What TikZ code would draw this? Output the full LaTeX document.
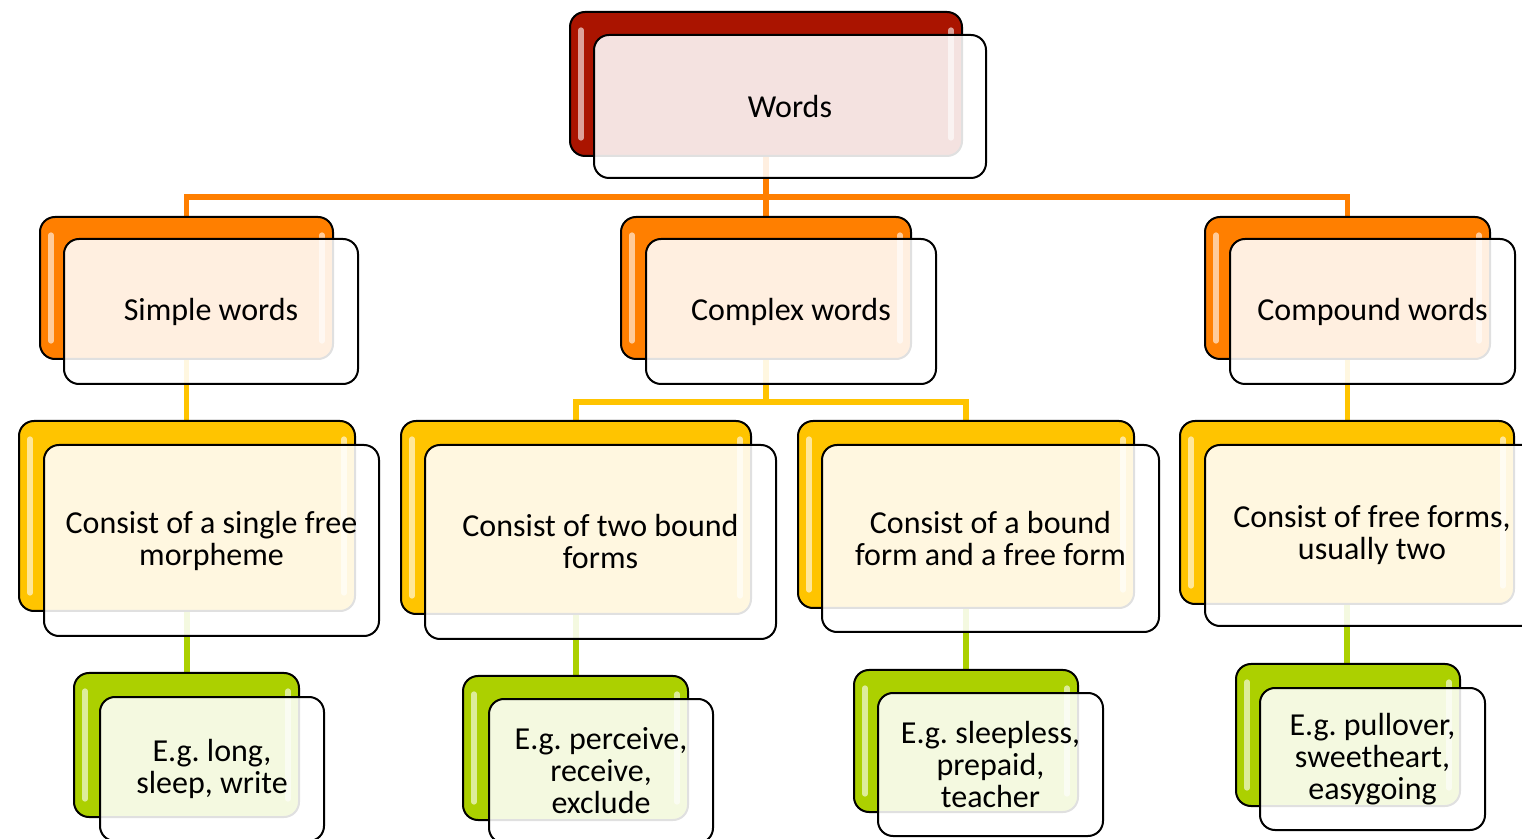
\documentclass[tikz,border=0pt]{standalone}
\usepackage{fontspec}
\setmainfont{Carlito}
\frenchspacing
\definecolor{cRed}{HTML}{AA1400}
\definecolor{cOrange}{HTML}{FF7F00}
\definecolor{cYellow}{HTML}{FFC400}
\definecolor{cGreen}{HTML}{ACD000}
\pgfdeclarelayer{bg}
\pgfsetlayers{bg,main}
\tikzset{
  backbox/.style={draw=black, line width=1pt, rounded corners=7.5pt, fill=#1, inner sep=0pt,
    path picture={
      \draw[white, opacity=0.6, line width=2.6pt, line cap=round]
        ([xshift=5.5pt,yshift=-9pt]path picture bounding box.north west) --
        ([xshift=5.5pt,yshift=9pt]path picture bounding box.south west);
      \draw[white, opacity=0.6, line width=2.6pt, line cap=round]
        ([xshift=-5.5pt,yshift=-9pt]path picture bounding box.north east) --
        ([xshift=-5.5pt,yshift=9pt]path picture bounding box.south east);
    }},
  txt/.style={align=center, font=\fontsize{16}{16}\selectfont},
  frontbox/.style={draw=black, line width=1pt, rounded corners=7.5pt, fill=white,
    fill opacity=0.88, text opacity=1, draw opacity=1, inner sep=0pt, txt},
  conn/.style={line width=2.6pt, draw=#1},
}
\begin{document}
\begin{tikzpicture}[x=0.5pt,y=-0.5pt]
\useasboundingbox (0,0) rectangle (1522,839);
\clip (0,0) rectangle (1522,839);
% ---- level 0
\node[backbox=cRed, minimum width=196pt, minimum height=72pt] (wordsB) at (766,84) {};
\node[frontbox, minimum width=196pt, minimum height=71.5pt] (wordsF) at (790,106.5) {Words};
% ---- level 1
\node[backbox=cOrange, minimum width=146.5pt, minimum height=71pt] (simpleB) at (186.5,288) {};
\node[frontbox, minimum width=147pt, minimum height=72.5pt] (simpleF) at (211,311.5) {Simple words};
\node[backbox=cOrange, minimum width=145pt, minimum height=71pt] (complexB) at (766,288) {};
\node[frontbox, minimum width=145pt, minimum height=72.5pt] (complexF) at (791,311.5) {Complex words};
\node[backbox=cOrange, minimum width=142.5pt, minimum height=71pt] (compoundB) at (1347.5,288) {};
\node[frontbox, minimum width=142.5pt, minimum height=72.5pt] (compoundF) at (1372.5,311.5) {Compound words};
% ---- level 2
\node[backbox=cYellow, minimum width=168pt, minimum height=95pt] (singleB) at (187,516) {};
\node[frontbox, minimum width=167.5pt, minimum height=95.5pt] (singleF) at (211.5,540.5) {Consist of a single free\\morpheme};
\node[backbox=cYellow, minimum width=175pt, minimum height=96.5pt] (twoB) at (576,517.5) {};
\node[frontbox, minimum width=175.5pt, minimum height=97pt] (twoF) at (600.5,542) {Consist of two bound\\forms};
\node[backbox=cYellow, minimum width=168pt, minimum height=93.5pt] (boundB) at (966,514.5) {};
\node[frontbox, minimum width=168.5pt, minimum height=93.5pt] (boundF) at (990.5,538.5) {Consist of a bound\\form and a free form};
\node[backbox=cYellow, minimum width=167pt, minimum height=91.5pt] (freeB) at (1347,512.5) {};
\node[frontbox, minimum width=167pt, minimum height=90.5pt] (freeF) at (1372,535.5) {};
\node[txt] (freeT) at (1372,535.5) {Consist of free forms,\\usually two};
% ---- level 3
\node[backbox=cGreen, minimum width=112.5pt, minimum height=72pt] (longB) at (186.5,745) {};
\node[frontbox, minimum width=112pt, minimum height=72pt] (longF) at (212,769) {E.g. long,\\sleep, write};
\node[backbox=cGreen, minimum width=112.5pt, minimum height=72pt] (percB) at (575.5,748) {};
\node[frontbox, minimum width=112pt, minimum height=72pt] (percF) at (601,771) {E.g. perceive,\\receive,\\exclude};
\node[backbox=cGreen, minimum width=112pt, minimum height=71pt] (sleepB) at (966,741) {};
\node[frontbox, minimum width=112.5pt, minimum height=71.5pt] (sleepF) at (990.5,764.5) {E.g. sleepless,\\prepaid,\\teacher};
\node[backbox=cGreen, minimum width=112pt, minimum height=71pt] (pullB) at (1348,735) {};
\node[frontbox, minimum width=112.5pt, minimum height=71pt] (pullF) at (1372.5,759) {E.g. pullover,\\sweetheart,\\easygoing};
% ---- connectors
\coordinate (h1) at (0,197);
\coordinate (h2) at (0,402);
\begin{pgfonlayer}{bg}
\draw[conn=cOrange] (wordsB.south) -- (complexB.north);
\draw[conn=cOrange] (simpleB.north) -- (simpleB.north |- h1) -- (compoundB.north |- h1) -- (compoundB.north);
\draw[conn=cYellow] (simpleB.south) -- (simpleB.south |- singleB.north);
\draw[conn=cYellow] (complexB.south) -- (complexB.south |- h2);
\draw[conn=cYellow] (twoB.north) -- (twoB.north |- h2) -- (boundB.north |- h2) -- (boundB.north);
\draw[conn=cYellow] (compoundB.south) -- (compoundB.south |- freeB.north);
\draw[conn=cGreen] (singleB.south) -- (singleB.south |- longB.north);
\draw[conn=cGreen] (twoB.south) -- (twoB.south |- percB.north);
\draw[conn=cGreen] (boundB.south) -- (boundB.south |- sleepB.north);
\draw[conn=cGreen] (freeB.south) -- (freeB.south |- pullB.north);
\end{pgfonlayer}
\end{tikzpicture}
\end{document}
